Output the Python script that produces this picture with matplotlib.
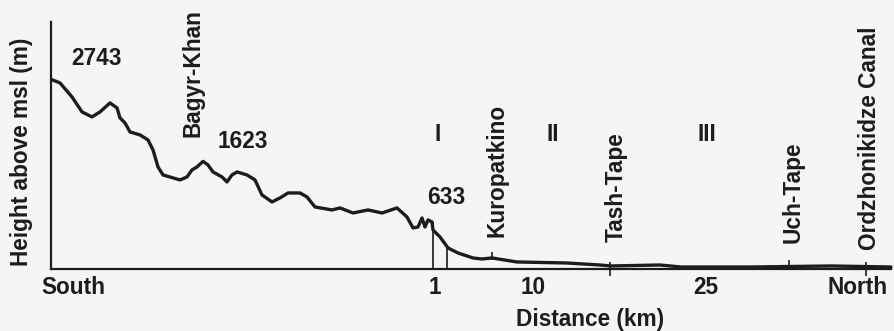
import matplotlib
matplotlib.use("Agg")
import matplotlib.pyplot as plt

# profile position (arbitrary schematic units along the section) and height (m)
position = [1, 9, 21, 31, 41, 49, 59, 66, 69, 74, 79, 89, 97, 102, 107, 112, 129, 136,
            141, 146, 152, 157, 162, 171, 176, 181, 186, 196, 204, 211, 221, 229, 237,
            249, 256, 264, 281, 289, 302, 317, 331, 346, 356, 362, 367, 371, 374, 377,
            381, 382, 389, 397, 407, 422, 431, 441, 466, 516, 549, 560, 609, 630, 700,
            780, 840]
height = [2743, 2697, 2494, 2277, 2204, 2277, 2407, 2335, 2190, 2117, 1987, 1943, 1871,
          1726, 1479, 1363, 1291, 1334, 1436, 1479, 1560, 1508, 1407, 1334, 1262, 1363,
          1407, 1363, 1291, 1073, 972, 1030, 1102, 1102, 1044, 899, 856, 885, 812, 856,
          812, 885, 754, 595, 609, 740, 609, 711, 682, 566, 464, 305, 232, 160, 145, 160,
          102, 87, 58, 44, 58, 29, 29, 44, 29]

# vertical drop lines (position, top height)
drop_pos = [382, 396]
drop_top = [682, 305]

# place markers
places = ["Bagyr-Khan", "Kuropatkino", "Tash-Tape", "Uch-Tape", "Ordzhonikidze Canal"]
place_pos = [142, 446, 565, 742, 818]
place_base = [1914, 464, 392, 377, 276]
tick_pos = [441, 559, 738, 815]
tick_lo = [130, -100, 15, -100]
tick_hi = [250, 100, 130, 100]

# elevation annotations
elev_text = ["2743", "1623", "633"]
elev_pos = [46, 192, 395]
elev_h = [3045, 1842, 1030]

# zone labels
zones = ["I", "II", "III"]
zone_pos = [387, 502, 656]
zone_h = [1943, 1943, 1943]

# x tick labels
xtick_pos = [22, 384, 482, 655, 807]
xtick_lab = ["South", "1", "10", "25", "North"]

bg = "#f5f5f5"
ink = "#1c1c1c"
plt.rcParams['font.family'] = ['Liberation Sans', 'DejaVu Sans']
fs = 16.3
fw = 'bold'

fig = plt.figure(figsize=(8.94, 3.31), dpi=100, facecolor=bg)
ax = fig.add_axes([51/894, (331-269)/331, 840/894, (269-22)/331])
ax.set_facecolor(bg)
ax.set_xlim(0, 840)
ax.set_ylim(0, 3580)

ax.plot(position, height, color=ink, lw=2.4, solid_joinstyle='round',
        solid_capstyle='round', clip_on=False)
ax.vlines(drop_pos, 0, drop_top, color=ink, lw=1.2)
ax.vlines(tick_pos, tick_lo, tick_hi, color=ink, lw=1.2, clip_on=False)

for s in ['top', 'right']:
    ax.spines[s].set_visible(False)
for s in ['left', 'bottom']:
    ax.spines[s].set_linewidth(1.6)
    ax.spines[s].set_color(ink)

ax.set_yticks([])
ax.set_xticks(xtick_pos)
ax.set_xticklabels(xtick_lab, fontsize=fs, color=ink, fontweight=fw)
ax.tick_params(axis='x', length=0, pad=5)

for name, x, y in zip(places, place_pos, place_base):
    ax.text(x, y, name, rotation=90, ha='center', va='bottom', fontsize=fs,
            color=ink, fontweight=fw)
for t, x, y in zip(elev_text, elev_pos, elev_h):
    ax.text(x, y, t, ha='center', va='center', fontsize=fs, color=ink, fontweight=fw)
for t, x, y in zip(zones, zone_pos, zone_h):
    ax.text(x, y, t, ha='center', va='center', fontsize=fs, color=ink, fontweight=fw)

ax.text(-29, 1696, "Height above msl (m)", rotation=90, ha='center', va='center',
        fontsize=fs, color=ink, fontweight=fw, clip_on=False)
ax.text(539, -735, "Distance (km)", ha='center', va='center', fontsize=fs, color=ink,
        fontweight=fw, clip_on=False)

fig.savefig("out.png", dpi=100, facecolor=bg)
